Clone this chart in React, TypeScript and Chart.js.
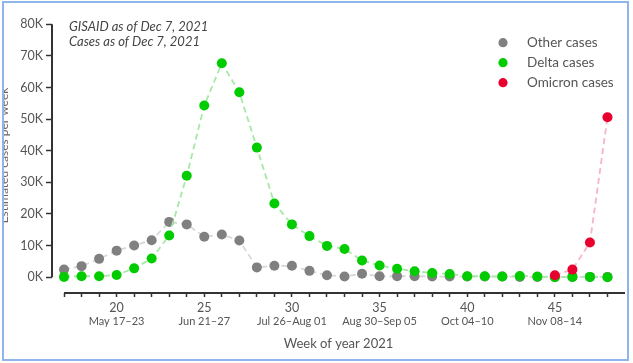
import React, { useEffect, useRef } from 'react';
import { Chart, registerables } from 'chart.js';

Chart.register(...registerables);

const weeks = [17, 18, 19, 20, 21, 22, 23, 24, 25, 26, 27, 28, 29, 30, 31, 32, 33, 34, 35, 36, 37, 38, 39, 40, 41, 42, 43, 44, 45, 46, 47, 48];
const otherCases = [2400, 3500, 5800, 8400, 10000, 11700, 17500, 16700, 12800, 13500, 11600, 3100, 3600, 3600, 2000, 600, 200, 1100, 300, 300, 300, 200, 200, 200, 200, 200, 100, 100, 100, 100, 100, 100];
const deltaCases = [100, 300, 300, 700, 2800, 5900, 13200, 32100, 54300, 67700, 58500, 41000, 23300, 16700, 13000, 9900, 8900, 5300, 3700, 2700, 1900, 1300, 1000, 300, 300, 200, 400, 200, 0, 100, 100, 0];
const omicronWeeks = [45, 46, 47, 48];
const omicronCases = [600, 2400, 11000, 50600];
const yTicks = [0, 10000, 20000, 30000, 40000, 50000, 60000, 70000, 80000];
const labelWeeks = [20, 25, 30, 35, 40, 45];
const weekRanges = ['May 17–23', 'Jun 21–27', 'Jul 26–Aug 01', 'Aug 30–Sep 05', 'Oct 04–10', 'Nov 08–14'];
const seriesNames = ['Other cases', 'Delta cases', 'Omicron cases'];
const noteLines = ['GISAID as of Dec 7, 2021', 'Cases as of Dec 7, 2021'];

const dotColors = ['#808080', '#00cc00', '#e8002e'];
const lineColors = ['#d8d8d8', '#a6e8a6', '#f7b4c3'];
const FONT = 'Lato, "Open Sans", sans-serif';

const decorPlugin = {
  id: 'decor',
  beforeDatasetsDraw(chart: any) {
    const { ctx, chartArea, scales } = chart;
    const x = scales.x;
    const y = scales.y;
    ctx.save();
    ctx.strokeStyle = '#333';
    ctx.lineWidth = 2;
    ctx.beginPath();
    ctx.moveTo(chartArea.left, y.getPixelForValue(yTicks[0]));
    ctx.lineTo(chartArea.left, y.getPixelForValue(yTicks[yTicks.length - 1]));
    ctx.stroke();
    ctx.beginPath();
    ctx.moveTo(x.getPixelForValue(weeks[0]), chartArea.bottom);
    ctx.lineTo(x.getPixelForValue(x.max), chartArea.bottom);
    ctx.stroke();
    ctx.restore();
  },
  afterDraw(chart: any) {
    const { ctx, chartArea } = chart;
    ctx.save();
    ctx.fillStyle = '#444';
    ctx.font = 'italic 13px ' + FONT;
    ctx.textBaseline = 'middle';
    ctx.textAlign = 'left';
    noteLines.forEach((t, i) => {
      ctx.fillText(t, chartArea.left + 17, chartArea.top + 9 + i * 14.7);
    });
    ctx.font = '13.5px ' + FONT;
    seriesNames.forEach((name, i) => {
      const cy = chartArea.top + 24.7 + i * 20;
      ctx.fillStyle = dotColors[i];
      ctx.beginPath();
      ctx.arc(chartArea.right - 122, cy, 4.6, 0, Math.PI * 2);
      ctx.fill();
      ctx.fillStyle = '#555';
      ctx.fillText(name, chartArea.right - 98, cy);
    });
    ctx.restore();
  },
};

export default function App() {
  const ref = useRef<HTMLCanvasElement | null>(null);
  useEffect(() => {
    document.body.style.margin = '0';
    const canvas = ref.current;
    if (!canvas) return;
    const mk = (i: number, xs: number[], ys: number[], order: number) => ({
      label: seriesNames[i],
      data: xs.map((w, k) => ({ x: w, y: ys[k] })),
      borderColor: lineColors[i],
      borderWidth: 1.8,
      borderDash: [6, 4],
      pointRadius: 5,
      pointBorderWidth: 0,
      pointBackgroundColor: dotColors[i],
      pointBorderColor: dotColors[i],
      backgroundColor: dotColors[i],
      fill: false,
      tension: 0,
      order,
    });
    const chart = new Chart(canvas, {
      type: 'line',
      data: {
        datasets: [
          mk(0, weeks, otherCases, 3),
          mk(1, weeks, deltaCases, 2),
          mk(2, omicronWeeks, omicronCases, 1),
        ],
      },
      plugins: [decorPlugin],
      options: {
        animation: false,
        responsive: false,
        devicePixelRatio: 1,
        layout: { padding: { top: 18, right: 8, left: 0, bottom: 0 } },
        plugins: { legend: { display: false }, tooltip: { enabled: false } },
        scales: {
          x: {
            type: 'linear',
            min: 16.314,
            max: 49,
            afterBuildTicks: (s: any) => { s.ticks = weeks.map((v) => ({ value: v })); },
            afterFit: (s: any) => { s.height = 22; },
            ticks: {
              autoSkip: false,
              maxRotation: 0,
              padding: 3,
              color: '#555',
              font: { family: FONT, size: 12.5 },
              callback: (v: any) => (labelWeeks.includes(v) ? String(v) : ''),
            },
            grid: { display: true, drawOnChartArea: false, drawTicks: true, tickLength: 4, tickColor: '#333', tickWidth: 1.5 },
            border: { display: false },
          },
          x2: {
            type: 'linear',
            position: 'bottom',
            min: 16.314,
            max: 49,
            afterBuildTicks: (s: any) => { s.ticks = labelWeeks.map((v) => ({ value: v })); },
            afterFit: (s: any) => { s.height = 48; },
            ticks: {
              autoSkip: false,
              maxRotation: 0,
              padding: 0,
              color: '#555',
              font: { family: FONT, size: 11 },
              callback: (v: any) => weekRanges[labelWeeks.indexOf(v)] ?? '',
            },
            grid: { display: false, drawTicks: false },
            border: { display: false },
            title: {
              display: true,
              text: 'Week of year 2021',
              color: '#555',
              font: { family: FONT, size: 13 },
              padding: { top: 0, bottom: 11 },
            },
          },
          y: {
            type: 'linear',
            min: -5000,
            max: 82000,
            afterBuildTicks: (s: any) => { s.ticks = yTicks.map((v) => ({ value: v })); },
            afterFit: (s: any) => { s.width = 52; },
            ticks: {
              padding: 3,
              color: '#555',
              font: { family: FONT, size: 12.5 },
              callback: (v: any) => `${Math.round(v / 1000)}K`,
            },
            grid: { display: true, drawOnChartArea: false, drawTicks: true, tickLength: 6, tickColor: '#333', tickWidth: 1.5 },
            border: { display: false },
            title: {
              display: true,
              text: 'Estimated cases per week',
              color: '#666',
              font: { family: FONT, size: 12 },
              padding: { top: -3, bottom: 0 },
            },
          },
        },
      },
    } as any);
    return () => chart.destroy();
  }, []);

  return (
    <div style={{ position: 'relative', width: 633, height: 363, background: '#fff', overflow: 'hidden' }}>
      <div
        style={{
          position: 'absolute',
          left: 2,
          top: 1,
          width: 627,
          height: 360,
          boxSizing: 'border-box',
          border: '2px solid #8fb5ea',
          overflow: 'hidden',
        }}
      >
        <canvas ref={ref} width={633} height={363} style={{ position: 'absolute', left: -4, top: -3, width: 633, height: 363 }} />
      </div>
    </div>
  );
}
